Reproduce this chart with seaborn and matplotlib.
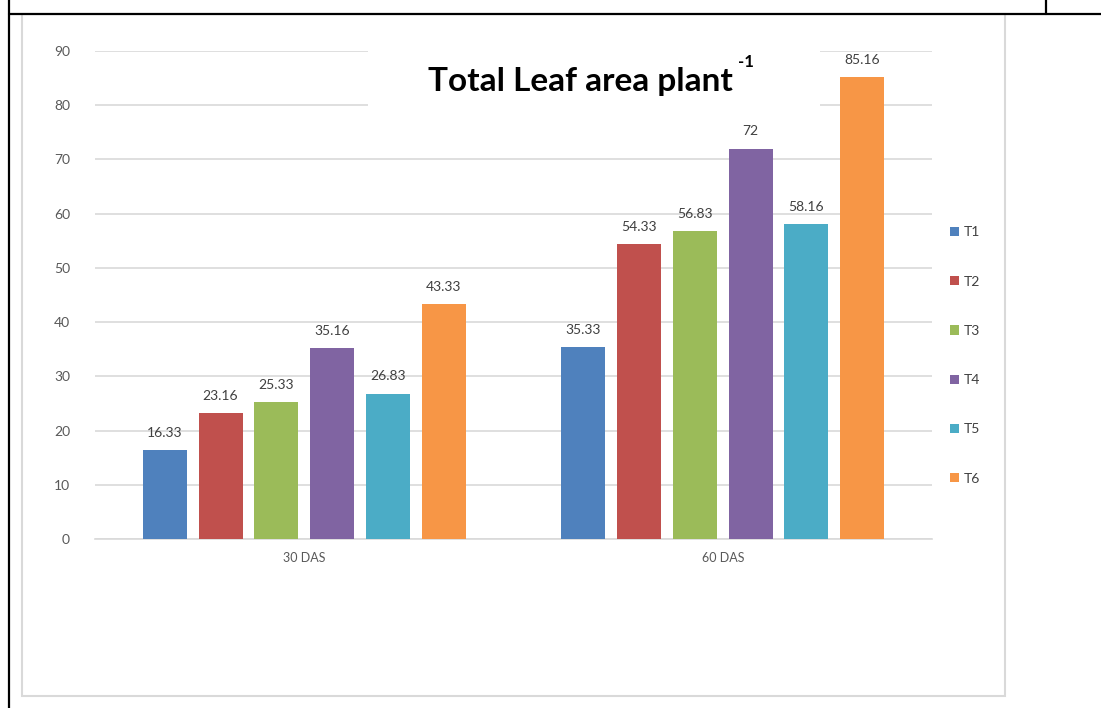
import matplotlib
matplotlib.use("Agg")
import matplotlib.pyplot as plt
from matplotlib.patches import Rectangle
from matplotlib.lines import Line2D
import seaborn as sns
import pandas as pd

categories = ["30 DAS", "60 DAS"]
treatments = ["T1", "T2", "T3", "T4", "T5", "T6"]
values_30 = [16.33, 23.16, 25.33, 35.16, 26.83, 43.33]
values_60 = [35.33, 54.33, 56.83, 72, 58.16, 85.16]
colors = ["#4F81BD", "#C0504D", "#9BBB59", "#8064A2", "#4BACC6", "#F79646"]
yticks = [0, 10, 20, 30, 40, 50, 60, 70, 80, 90]

rows = []
for cat, vals in zip(categories, [values_30, values_60]):
    for t, v in zip(treatments, vals):
        rows.append({"Stage": cat, "Treatment": t, "Value": v})
df = pd.DataFrame(rows)

sns.set_theme(style="white")
plt.rcParams["font.family"] = ["Lato", "DejaVu Sans"]

W, H = 1101, 708
fig = plt.figure(figsize=(W / 100, H / 100), dpi=100)
ax = fig.add_axes([95 / W, 1 - 539 / H, (932 - 95) / W, (539 - 51) / H])

sns.barplot(data=df, x="Stage", y="Value", hue="Treatment", palette=colors,
            width=0.8, gap=0.21, ax=ax, saturation=1, legend=True, zorder=3,
            linewidth=0, edgecolor="none")

for cont in ax.containers:
    ax.bar_label(cont, fmt="{:g}", padding=8, fontsize=10, color="#404040")

ax.set_ylim(0, 90)
ax.set_xlim(-0.5, 1.5)
ax.set_yticks(yticks)
ax.yaxis.grid(True, color="#d9d9d9", linewidth=1.2, zorder=0)
ax.set_axisbelow(True)
for s in ["top", "right", "left"]:
    ax.spines[s].set_visible(False)
ax.spines["bottom"].set_color("#d9d9d9")
ax.spines["bottom"].set_linewidth(1.2)
ax.tick_params(axis="both", length=0, colors="#595959", labelsize=10)
ax.tick_params(axis="y", pad=18)
ax.tick_params(axis="x", pad=9, labelsize=9)
ax.set_xlabel("")
ax.set_ylabel("")

handles, labels = ax.get_legend_handles_labels()
ax.legend(handles, labels, loc="upper left", bbox_to_anchor=(937 / W, 1 - 214 / H),
          bbox_transform=fig.transFigure, frameon=False, fontsize=10,
          handlelength=0.65, handleheight=0.65, handletextpad=0.35,
          labelspacing=2.68, labelcolor="#404040")

# title with white backing box
fig.add_artist(Rectangle((368 / W, 1 - 116 / H), (820 - 368) / W, (116 - 38) / H,
                         transform=fig.transFigure, facecolor="white", edgecolor="none", zorder=2))
title = fig.text(428 / W, 1 - 81 / H, "Total Leaf area plant", ha="left", va="center",
                 fontsize=24, fontweight="bold", color="black", zorder=3)
fig.canvas.draw()
bb = title.get_window_extent()
fig.text((bb.x1 + 5) / W, 1 - 62 / H, "-1", ha="left", va="center",
         fontsize=12, fontweight="bold", color="black", zorder=3)

# chart outer border (light gray)
fig.add_artist(Rectangle((22 / W, 1 - 696 / H), (1005 - 22) / W, (696 - 14) / H,
                         transform=fig.transFigure, facecolor="none", edgecolor="#d9d9d9",
                         linewidth=1.5, zorder=1))
# document table lines (black)
fig.add_artist(Line2D([9 / W, 1], [1 - 14 / H, 1 - 14 / H], transform=fig.transFigure,
                      color="black", linewidth=1.6, zorder=4))
fig.add_artist(Line2D([9 / W, 9 / W], [0, 1], transform=fig.transFigure,
                      color="black", linewidth=1.6, zorder=4))
fig.add_artist(Line2D([1046 / W, 1046 / W], [1 - 14 / H, 1], transform=fig.transFigure,
                      color="black", linewidth=1.6, zorder=4))

fig.savefig("out.png", dpi=100)
